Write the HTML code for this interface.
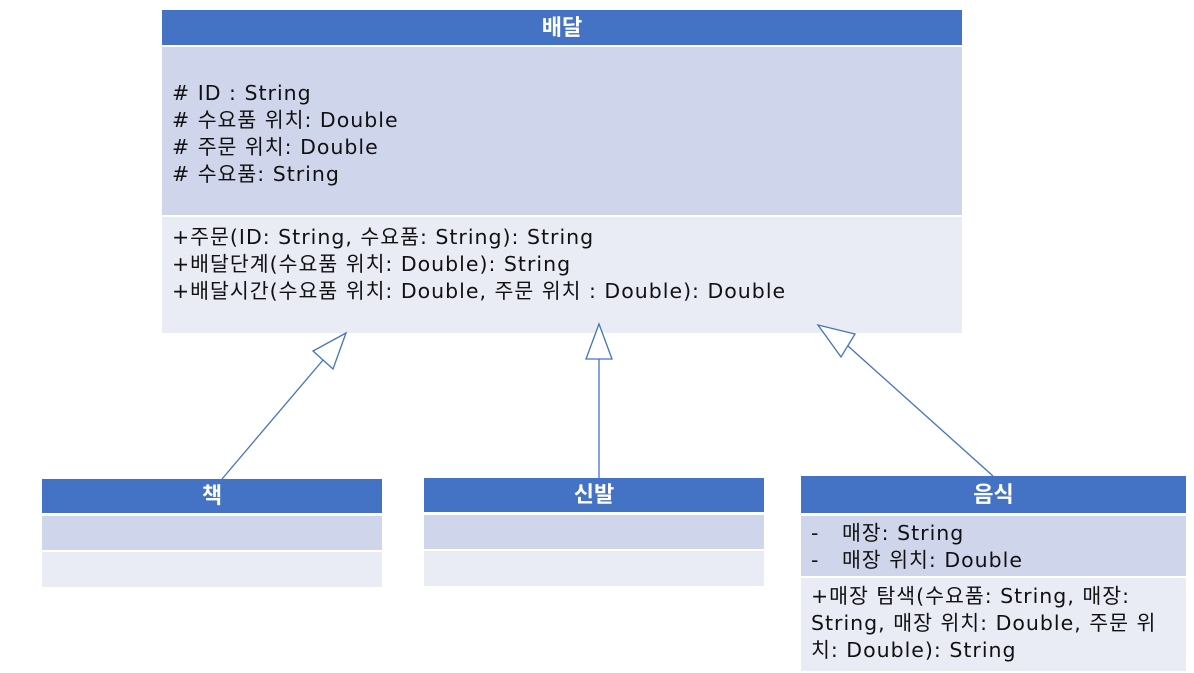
<!DOCTYPE html>
<html><head><meta charset="utf-8"><style>
body{margin:0;width:1194px;height:673px;background:#fff;position:relative;font-family:"DejaVu Sans","Noto Sans CJK KR",sans-serif;overflow:hidden}
.b{position:absolute}
.h{background:#4472C4;color:#fff;font-weight:bold;font-size:22px;text-align:center;font-family:"Liberation Sans","Noto Sans CJK KR",sans-serif}
.a{background:#CFD5EA}
.m{background:#E9EBF5}
.t{font-size:20.5px;letter-spacing:1px;color:#111;line-height:27px;white-space:pre}
</style></head><body>
<div class="b h" style="left:162px;top:10px;width:800px;height:35px;line-height:35px">배달</div>
<div class="b a t" style="left:162px;top:47px;width:800px;height:168px;padding-left:10px;padding-top:33px;box-sizing:border-box"># ID : String
# 수요품 위치: Double
# 주문 위치: Double
# 수요품: String</div>
<div class="b m t" style="left:162px;top:217px;width:800px;height:116px;padding-left:10px;padding-top:7px;box-sizing:border-box">+주문(ID: String, 수요품: String): String
+배달단계(수요품 위치: Double): String
+배달시간(수요품 위치: Double, 주문 위치 : Double): Double</div>

<div class="b h" style="left:42px;top:479px;width:340px;height:34px;line-height:34px">책</div>
<div class="b a" style="left:42px;top:516px;width:340px;height:34px"></div>
<div class="b m" style="left:42px;top:552px;width:340px;height:35px"></div>

<div class="b h" style="left:424px;top:478px;width:340px;height:34px;line-height:34px">신발</div>
<div class="b a" style="left:424px;top:515px;width:340px;height:34px"></div>
<div class="b m" style="left:424px;top:551px;width:340px;height:35px"></div>

<div class="b h" style="left:801px;top:476px;width:385px;height:37px;line-height:37px">음식</div>
<div class="b a t" style="left:801px;top:516px;width:385px;height:60px;padding-left:10px;padding-top:4px;box-sizing:border-box">-   매장: String
-   매장 위치: Double</div>
<div class="b m t" style="left:801px;top:578px;width:385px;height:93px;padding:5px 0 0 10px;box-sizing:border-box">+매장 탐색(수요품: String, 매장:
String, 매장 위치: Double, 주문 위
치: Double): String</div>

<svg class="b" style="left:0;top:0" width="1194" height="673">
<g stroke="#4472C4" stroke-width="1.3" fill="#fff">
<line x1="222" y1="479" x2="323" y2="360"/>
<polygon points="346,333 313,351 333,369"/>
<line x1="599" y1="478" x2="599" y2="359"/>
<polygon points="599,324 586,359 612,359"/>
<line x1="993" y1="476" x2="848" y2="346"/>
<polygon points="818,325 855,334 841,357"/>
</g></svg>
</body></html>
